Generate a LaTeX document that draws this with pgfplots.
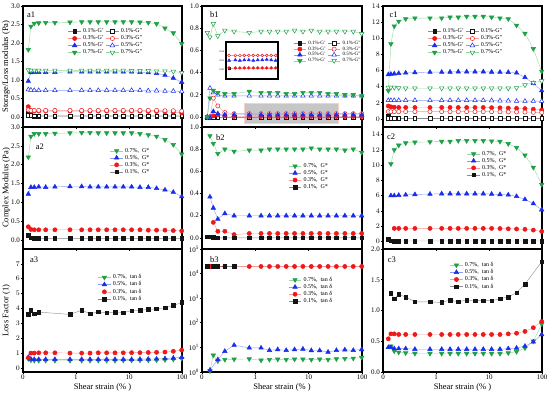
\documentclass[border=0pt]{standalone}
\usepackage{fontspec}
\setmainfont{Liberation Serif}
\usepackage{pgfplots}
\usepackage{pgfplotstable}
\pgfplotsset{compat=1.18}

\definecolor{cg}{RGB}{30,160,70}
\definecolor{cgl}{RGB}{150,215,160}
\definecolor{cb}{RGB}{25,45,235}
\definecolor{cbl}{RGB}{135,155,245}
\definecolor{cr}{RGB}{240,25,25}
\definecolor{crl}{RGB}{245,155,155}
\definecolor{ck}{RGB}{20,20,20}
\definecolor{ckl}{RGB}{140,140,140}

\pgfplotsset{
 s7f/.style={color=cgl, line width=0.4pt, mark=triangle*, mark size=2.6pt, mark options={rotate=180, fill=cg, draw=cg, solid, line width=0.5pt}},
 s7h/.style={color=cgl, line width=0.4pt, mark=triangle*, mark size=2.6pt, mark options={rotate=180, fill=white, draw=cg, solid, line width=0.5pt}},
 s5f/.style={color=cbl, line width=0.4pt, mark=triangle*, mark size=2.6pt, mark options={fill=cb, draw=cb, solid, line width=0.5pt}},
 s5h/.style={color=cbl, line width=0.4pt, mark=triangle*, mark size=2.6pt, mark options={fill=white, draw=cb, solid, line width=0.5pt}},
 s3f/.style={color=crl, line width=0.4pt, mark=*, mark size=2.1pt, mark options={fill=cr, draw=cr, solid, line width=0.5pt}},
 s3h/.style={color=crl, line width=0.4pt, mark=*, mark size=2.1pt, mark options={fill=white, draw=cr, solid, line width=0.5pt}},
 s1f/.style={color=ckl, line width=0.4pt, mark=square*, mark size=1.8pt, mark options={fill=ck, draw=ck, solid, line width=0.5pt}},
 s1h/.style={color=ckl, line width=0.4pt, mark=square*, mark size=1.8pt, mark options={fill=white, draw=ck, solid, line width=0.5pt}},
 every axis/.append style={scale only axis, anchor=south west,
   xminorticks=false, yminorticks=false,
   axis line style={line width=1.1pt}, tick align=outside,
   xtick pos=bottom, ytick pos=left, major tick length=2pt,
   tick style={line width=0.6pt, black},
   ticklabel style={font=\fontsize{7}{8}\selectfont},
   yticklabel style={inner sep=1pt},
   xticklabel style={inner sep=1pt},
   clip=false,
   label style={font=\fontsize{8.5}{10}\selectfont},
   ylabel style={at={(axis description cs:-0.08,0.5)}, anchor=south, inner sep=0pt},
   xlabel style={at={(axis description cs:0.5,0)}, anchor=north, inner sep=0pt, yshift=-11pt},
   legend style={draw=none, fill=none, font=\fontsize{6}{6}\selectfont, inner sep=0pt, row sep=-2.5pt, anchor=north west},
   legend cell align=left,
 },
 legend image code/.code={\draw[mark repeat=2,mark phase=2] plot coordinates {(0cm,0cm) (0.22cm,0cm) (0.44cm,0cm)};},
}
\tikzset{mylab/.style={anchor=west, font=\fontsize{8.5}{9}\selectfont, inner sep=0pt}}

% ---------------- data ----------------
\pgfplotstableread{
x p1 q1 p3 q3 p5 q5 p7 q7
0.126 0.12 0.05 0.28 0.19 0.97 0.74 1.82 1.27
0.141 0.03 0.04 0.17 0.18 1.20 0.73 2.45 1.26
0.163 0.02 0.03 0.16 0.18 1.21 0.72 2.53 1.26
0.198 0.02 0.03 0.16 0.18 1.21 0.72 2.54 1.26
0.268 0.02 0.03 0.16 0.18 1.21 0.72 2.55 1.26
0.40 0.02 0.03 0.16 0.18 1.21 0.72 2.55 1.26
0.77 0.02 0.03 0.16 0.18 1.22 0.72 2.56 1.26
1.28 0.02 0.03 0.16 0.18 1.22 0.72 2.57 1.26
1.84 0.02 0.03 0.16 0.18 1.22 0.72 2.57 1.26
2.63 0.02 0.03 0.16 0.18 1.22 0.72 2.57 1.26
3.79 0.02 0.03 0.16 0.18 1.22 0.72 2.57 1.26
5.44 0.02 0.03 0.16 0.18 1.22 0.72 2.57 1.26
7.8 0.02 0.03 0.16 0.18 1.22 0.72 2.57 1.26
11.2 0.02 0.03 0.16 0.18 1.22 0.72 2.57 1.25
16.1 0.02 0.03 0.16 0.18 1.21 0.72 2.56 1.25
23.1 0.02 0.03 0.15 0.18 1.20 0.71 2.55 1.25
33.1 0.02 0.03 0.15 0.18 1.18 0.71 2.52 1.24
47.7 0.02 0.03 0.14 0.17 1.13 0.70 2.40 1.24
68.6 0.02 0.03 0.13 0.17 1.05 0.70 2.27 1.23
98.6 0.02 0.03 0.11 0.16 0.94 0.69 1.98 1.20
}\tAone

\pgfplotstableread{
x p1 q1 p3 q3 p5 q5 p7 q7
0.126 0.0 0.0 0.0 0.0 0.0 0.0 0.0 0.76
0.141 0.0 0.0 0.0 0.0 0.0 0.26 0.17 0.72
0.163 0.0 0.0 0.01 0.17 0.05 0.22 0.24 0.84
0.198 0.0 0.0 0.02 0.10 0.03 0.20 0.22 0.73
0.268 0.0 0.0 0.01 0.04 0.02 0.19 0.21 0.78
0.40 0.0 0.0 0.005 0.03 0.02 0.19 0.21 0.77
0.77 0.0 0.0 0.005 0.03 0.02 0.19 0.23 0.76
1.28 0.0 0.0 0.005 0.03 0.02 0.19 0.22 0.77
1.84 0.0 0.0 0.005 0.03 0.02 0.19 0.22 0.77
2.63 0.0 0.0 0.005 0.03 0.02 0.19 0.22 0.77
3.79 0.0 0.0 0.005 0.03 0.02 0.19 0.21 0.77
5.44 0.0 0.0 0.005 0.03 0.02 0.19 0.21 0.78
7.8 0.0 0.0 0.005 0.03 0.02 0.19 0.22 0.77
11.2 0.0 0.0 0.005 0.03 0.02 0.19 0.22 0.78
16.1 0.0 0.0 0.005 0.03 0.02 0.19 0.22 0.77
23.1 0.0 0.0 0.005 0.03 0.02 0.19 0.21 0.77
33.1 0.0 0.0 0.005 0.03 0.02 0.19 0.21 0.77
47.7 0.0 0.0 0.005 0.03 0.02 0.19 0.20 0.77
68.6 0.0 0.0 0.005 0.03 0.02 0.19 0.20 0.77
98.6 0.0 0.0 0.005 0.03 0.02 0.19 0.19 0.75
}\tBone

\pgfplotstableread{
x p1 q1 p3 q3 p5 q5
0.77 0.003 0.030 0.004 0.031 0.020 0.030
1.28 nan 0.030 0.004 0.031 0.021 0.030
1.84 nan 0.030 0.004 0.031 0.020 0.030
2.63 nan 0.030 0.004 0.031 0.021 0.030
3.79 nan 0.030 0.004 0.031 0.021 0.030
5.44 nan 0.030 0.004 0.031 0.020 0.030
7.8 nan 0.030 0.004 0.031 0.021 0.030
11.2 nan 0.030 0.004 0.031 0.021 0.030
16.1 nan 0.030 0.004 0.031 0.022 0.030
23.1 nan 0.030 0.004 0.031 0.021 0.030
33.1 nan 0.030 0.004 0.031 0.020 0.030
}\tBins

\pgfplotstableread{
x p1 q1 p3 q3 p5 q5 p7 q7
0.126 0.30 0.05 1.60 0.90 5.50 2.30 3.50 3.90
0.141 0.05 0.05 1.50 0.90 5.55 2.30 9.30 3.90
0.163 0.05 0.05 1.45 0.90 5.60 2.30 11.5 3.90
0.198 0.05 0.05 1.42 0.90 5.65 2.30 12.1 3.85
0.268 0.05 0.05 1.42 0.90 5.70 2.30 12.4 3.80
0.40 0.05 0.05 1.42 0.90 5.75 2.30 12.5 3.80
0.77 0.05 0.05 1.42 0.90 5.80 2.30 12.5 3.80
1.28 0.05 0.05 1.42 0.90 5.80 2.30 12.5 3.80
1.84 0.05 0.05 1.42 0.90 5.82 2.30 12.6 3.80
2.63 0.05 0.05 1.42 0.90 5.85 2.30 12.6 3.80
3.79 0.05 0.05 1.42 0.90 5.85 2.30 12.7 3.80
5.44 0.05 0.05 1.42 0.90 5.85 2.30 12.7 3.80
7.8 0.05 0.05 1.42 0.90 5.85 2.30 12.7 3.80
11.2 0.05 0.05 1.40 0.90 5.82 2.28 12.6 3.80
16.1 0.05 0.05 1.38 0.88 5.80 2.25 12.5 3.80
23.1 0.05 0.05 1.35 0.87 5.78 2.25 12.4 3.80
33.1 0.05 0.05 1.32 0.86 5.70 2.20 11.6 3.85
47.7 0.05 0.05 1.28 0.85 5.15 2.20 10.6 4.20
68.6 0.05 0.05 1.20 0.82 4.40 2.20 8.7 4.50
98.6 0.05 0.05 1.10 0.80 3.50 2.20 5.9 4.70
}\tCone

\pgfplotstableread{
x g1 g3 g5 g7
0.126 0.12 0.35 1.22 2.20
0.141 0.06 0.28 1.40 2.75
0.163 0.04 0.27 1.40 2.82
0.198 0.04 0.27 1.41 2.82
0.268 0.04 0.27 1.40 2.82
0.40 0.04 0.27 1.41 2.83
0.77 0.04 0.27 1.42 2.84
1.28 0.04 0.27 1.42 2.85
1.84 0.04 0.27 1.41 2.85
2.63 0.04 0.27 1.41 2.84
3.79 0.04 0.27 1.41 2.84
5.44 0.04 0.27 1.41 2.84
7.8 0.04 0.27 1.41 2.84
11.2 0.04 0.27 1.41 2.84
16.1 0.04 0.27 1.40 2.82
23.1 0.04 0.26 1.40 2.79
33.1 0.04 0.26 1.37 2.75
47.7 0.04 0.26 1.33 2.66
68.6 0.04 0.25 1.27 2.53
98.6 0.04 0.24 1.15 2.28
}\tAtwo

\pgfplotstableread{
x g1 g3 g5 g7
0.126 0.01 nan nan nan
0.141 0.01 nan 0.37 0.92
0.163 0.005 0.14 0.27 0.85
0.198 0.0 0.06 0.17 0.76
0.268 0.0 0.06 0.22 0.80
0.40 0.0 0.03 0.20 0.78
0.77 0.0 0.04 0.20 0.79
1.28 0.0 0.04 0.20 0.79
1.84 0.0 0.04 0.20 0.80
2.63 0.0 0.04 0.20 0.80
3.79 0.0 0.04 0.20 0.80
5.44 0.0 0.04 0.20 0.80
7.8 0.0 0.04 0.20 0.80
11.2 0.0 0.04 0.20 0.81
16.1 0.0 0.04 0.20 0.80
23.1 0.0 0.04 0.20 0.80
33.1 0.0 0.04 0.20 0.80
47.7 0.0 0.04 0.20 0.79
68.6 0.0 0.04 0.20 0.80
98.6 0.0 0.04 0.20 0.77
}\tBtwo

\pgfplotstableread{
x g1 g3 g5 g7
0.126 0.25 nan nan nan
0.141 0.10 nan 6.00 10.15
0.163 0.05 1.70 6.00 12.0
0.198 0.05 1.70 6.05 12.6
0.268 0.05 1.70 6.10 12.9
0.40 0.05 1.70 6.15 13.0
0.77 0.05 1.70 6.20 13.05
1.28 0.05 1.70 6.25 13.1
1.84 0.05 1.70 6.25 13.1
2.63 0.05 1.70 6.25 13.2
3.79 0.05 1.70 6.25 13.2
5.44 0.05 1.70 6.25 13.2
7.8 0.05 1.70 6.25 13.2
11.2 0.05 1.70 6.20 13.15
16.1 0.05 1.68 6.15 13.1
23.1 0.05 1.65 6.10 12.8
33.1 0.05 1.62 5.90 12.3
47.7 0.05 1.58 5.50 11.3
68.6 0.05 1.48 4.95 9.7
98.6 0.05 1.30 4.15 7.45
}\tCtwo

\pgfplotstableread{
x t1 t3 t5 t7
0.126 3.60 0.68 0.72 0.62
0.141 3.88 1.00 0.60 0.52
0.163 3.65 1.00 0.58 0.50
0.198 3.76 1.02 0.58 0.50
0.268 nan 1.02 0.58 0.50
0.40 nan 1.02 0.58 0.50
0.77 3.60 1.00 0.58 0.50
1.28 3.88 1.00 0.58 0.50
1.84 3.65 1.00 0.58 0.50
2.63 3.77 1.02 0.58 0.50
3.79 3.70 1.02 0.58 0.50
5.44 3.74 1.02 0.58 0.50
7.8 3.72 1.02 0.58 0.51
11.2 3.85 1.03 0.58 0.51
16.1 3.88 1.03 0.59 0.52
23.1 3.93 1.04 0.60 0.52
33.1 3.98 1.05 0.61 0.53
47.7 4.05 1.07 0.63 0.55
68.6 4.20 1.12 0.67 0.58
98.6 4.40 1.20 0.72 0.63
}\tAthree

\pgfplotstableread{
x t1 t3 t5 t7
0.126 19500 19500 nan nan
0.141 nan 19500 1.2 1.1
0.163 19500 19500 nan 4.8
0.198 19500 19500 3.2 2.8
0.268 19500 19500 7.0 3.2
0.40 19500 19500 12.3 3.3
0.77 nan 19500 9.5 3.4
1.28 nan 19500 9.5 3.0
1.84 nan 19500 7.6 3.2
2.63 nan 19500 8.2 3.3
3.79 nan 19500 7.6 3.2
5.44 nan 19500 8.2 3.3
7.8 nan 19500 8.6 3.3
11.2 nan 19500 7.5 3.2
16.1 nan 19500 7.5 3.3
23.1 nan 19500 6.5 3.2
33.1 nan 19500 7.6 3.4
47.7 nan 19500 8.0 3.5
68.6 nan 19500 7.6 3.6
98.6 nan 19500 8.2 3.9
}\tBthree

\pgfplotstableread{
x t1 t3 t5 t7
0.126 nan 0.54 0.40 nan
0.141 1.28 0.62 0.40 0.42
0.163 1.19 0.62 0.38 0.34
0.198 1.26 0.61 0.38 0.32
0.268 1.22 0.61 0.38 0.31
0.40 1.14 0.61 0.37 0.30
0.77 1.14 0.61 0.37 0.30
1.28 1.13 0.61 0.37 0.30
1.84 1.17 0.61 0.37 0.30
2.63 1.14 0.61 0.37 0.30
3.79 1.17 0.61 0.37 0.30
5.44 1.16 0.61 0.37 0.30
7.8 1.16 0.61 0.37 0.30
11.2 1.16 0.61 0.37 0.30
16.1 1.19 0.61 0.37 0.30
23.1 1.22 0.62 0.38 0.31
33.1 1.29 0.63 0.39 0.33
47.7 1.43 0.66 0.42 0.39
68.6 nan 0.72 0.49 0.50
98.6 1.79 0.82 0.61 0.78
}\tCthree

\begin{document}
\begin{tikzpicture}
\useasboundingbox (0pt,0pt) rectangle (550pt,395pt);

% ================= row 1 =================
\begin{axis}[at={(23pt,268pt)}, width=159pt, height=121pt,
  xmode=log, xmin=0.1, xmax=100, xtick={0.1,1,10,100}, xticklabels={},
  ymin=-0.27, ymax=3.0, ytick={0,0.5,1,1.5,2,2.5,3}, yticklabels={0.0,0.5,1.0,1.5,2.0,2.5,3.0},
  ylabel={Storage/Loss modulus (Pa)},
  legend columns=2, legend style={at={(0.283,0.83)}}]
\addplot[s1f] table[x=x,y=p1]{\tAone}; \addlegendentry{0.1\%-G'~}
\addplot[s1h] table[x=x,y=q1]{\tAone}; \addlegendentry{0.1\%-G''}
\addplot[s3f] table[x=x,y=p3]{\tAone}; \addlegendentry{0.3\%-G'~}
\addplot[s3h] table[x=x,y=q3]{\tAone}; \addlegendentry{0.3\%-G''}
\addplot[s5f] table[x=x,y=p5]{\tAone}; \addlegendentry{0.5\%-G'~}
\addplot[s5h] table[x=x,y=q5]{\tAone}; \addlegendentry{0.5\%-G''}
\addplot[s7f] table[x=x,y=p7]{\tAone}; \addlegendentry{0.7\%-G'~}
\addplot[s7h] table[x=x,y=q7]{\tAone}; \addlegendentry{0.7\%-G''}
\node[mylab] at (rel axis cs:0.025,0.925) {a1};
\end{axis}

\begin{axis}[at={(202pt,268pt)}, width=160pt, height=121pt,
  xmode=log, xmin=0.1, xmax=100, xtick={0.1,1,10,100}, xticklabels={},
  ymin=-0.09, ymax=1.0, ytick={0,0.2,0.4,0.6,0.8,1.0}, yticklabels={0.0,0.2,0.4,0.6,0.8,1.0},
  legend columns=2, legend style={at={(0.57,0.73)}, font=\fontsize{5}{5}\selectfont, row sep=-3pt}]
\fill[gray!45, draw=red!20] (axis cs:0.62,-0.057) rectangle (axis cs:36,0.123);
\addplot[s1f] table[x=x,y=p1]{\tBone}; \addlegendentry{0.1\%-G'~}
\addplot[s1h] table[x=x,y=q1]{\tBone}; \addlegendentry{0.1\%-G''}
\addplot[s3f] table[x=x,y=p3]{\tBone}; \addlegendentry{0.3\%-G'~}
\addplot[s3h] table[x=x,y=q3]{\tBone}; \addlegendentry{0.3\%-G''}
\addplot[s5f] table[x=x,y=p5]{\tBone}; \addlegendentry{0.5\%-G'~}
\addplot[s5h] table[x=x,y=q5]{\tBone}; \addlegendentry{0.5\%-G''}
\addplot[s7f] table[x=x,y=p7]{\tBone}; \addlegendentry{0.7\%-G'~}
\addplot[s7h] table[x=x,y=q7]{\tBone}; \addlegendentry{0.7\%-G''}
\node[mylab] at (rel axis cs:0.05,0.925) {b1};
\end{axis}

% inset of b1
\begin{axis}[at={(226pt,316pt)}, width=52pt, height=37pt,
  xmode=log, xmin=0.6, xmax=40, ymin=-0.02, ymax=0.06, clip=true,
  scaled y ticks=false,
  xtick={1,10}, ytick={0,0.02,0.04}, yticklabels={0.00,0.02,0.04}, xticklabels={},
  tick style={line width=0.3pt, black}, major tick length=1pt,
  ticklabel style={font=\fontsize{2.5}{3}\selectfont, inner sep=0.5pt}]
\addplot[s1f, mark size=1.2pt] table[x=x,y=p1]{\tBins};
\addplot[s3h, mark size=1.4pt] table[x=x,y=q3]{\tBins};
\addplot[s3f, mark size=1.4pt] table[x=x,y=p3]{\tBins};
\addplot[s5f, mark size=1.7pt] table[x=x,y=p5]{\tBins};
\end{axis}

\begin{axis}[at={(383pt,268pt)}, width=159pt, height=121pt,
  xmode=log, xmin=0.1, xmax=100, xtick={0.1,1,10,100}, xticklabels={},
  ymin=-1, ymax=14, ytick={0,2,4,6,8,10,12,14},
  legend columns=2, legend style={at={(0.283,0.83)}}]
\addplot[s1f] table[x=x,y=p1]{\tCone}; \addlegendentry{0.1\%-G'~}
\addplot[s1h] table[x=x,y=q1]{\tCone}; \addlegendentry{0.1\%-G''}
\addplot[s3f] table[x=x,y=p3]{\tCone}; \addlegendentry{0.3\%-G'~}
\addplot[s3h] table[x=x,y=q3]{\tCone}; \addlegendentry{0.3\%-G''}
\addplot[s5f] table[x=x,y=p5]{\tCone}; \addlegendentry{0.5\%-G'~}
\addplot[s5h] table[x=x,y=q5]{\tCone}; \addlegendentry{0.5\%-G''}
\addplot[s7f] table[x=x,y=p7]{\tCone}; \addlegendentry{0.7\%-G'~}
\addplot[s7h] table[x=x,y=q7]{\tCone}; \addlegendentry{0.7\%-G''}
\node[mylab] at (rel axis cs:0.04,0.925) {c1};
\end{axis}

% ================= row 2 =================
\begin{axis}[at={(23pt,146pt)}, width=159pt, height=122pt,
  xmode=log, xmin=0.1, xmax=100, xtick={0.1,1,10,100}, xticklabels={},
  ymin=-0.24, ymax=3.0, ytick={0,0.5,1,1.5,2,2.5,3}, yticklabels={0.0,0.5,1.0,1.5,2.0,2.5,3.0},
  ylabel={Complex Modulus (Pa)},
  legend style={at={(0.547,0.845)}}]
\addplot[s7f] table[x=x,y=g7]{\tAtwo}; \addlegendentry{0.7\%,~~G*}
\addplot[s5f] table[x=x,y=g5]{\tAtwo}; \addlegendentry{0.5\%,~~G*}
\addplot[s3f] table[x=x,y=g3]{\tAtwo}; \addlegendentry{0.3\%,~~G*}
\addplot[s1f] table[x=x,y=g1]{\tAtwo}; \addlegendentry{0.1\%,~~G*}
\node[mylab] at (rel axis cs:0.08,0.836) {a2};
\end{axis}

\begin{axis}[at={(202pt,146pt)}, width=160pt, height=122pt,
  xmode=log, xmin=0.1, xmax=100, xtick={0.1,1,10,100}, xticklabels={},
  ymin=-0.1, ymax=1.0, ytick={0,0.2,0.4,0.6,0.8,1.0}, yticklabels={0.0,0.2,0.4,0.6,0.8,1.0},
  legend style={at={(0.54,0.72)}}]
\addplot[s7f] table[x=x,y=g7]{\tBtwo}; \addlegendentry{0.7\%,~~G*}
\addplot[s5f] table[x=x,y=g5]{\tBtwo}; \addlegendentry{0.5\%,~~G*}
\addplot[s3f] table[x=x,y=g3]{\tBtwo}; \addlegendentry{0.3\%,~~G*}
\addplot[s1f] table[x=x,y=g1]{\tBtwo}; \addlegendentry{0.1\%,~~G*}
\node[mylab] at (rel axis cs:0.087,0.91) {b2};
\end{axis}

\begin{axis}[at={(383pt,146pt)}, width=159pt, height=122pt,
  xmode=log, xmin=0.1, xmax=100, xtick={0.1,1,10,100}, xticklabels={},
  ymin=-1, ymax=15, ytick={0,2,4,6,8,10,12,14},
  legend style={at={(0.528,0.82)}}]
\addplot[s7f] table[x=x,y=g7]{\tCtwo}; \addlegendentry{0.7\%,~~G*}
\addplot[s5f] table[x=x,y=g5]{\tCtwo}; \addlegendentry{0.5\%,~~G*}
\addplot[s3f] table[x=x,y=g3]{\tCtwo}; \addlegendentry{0.3\%,~~G*}
\addplot[s1f] table[x=x,y=g1]{\tCtwo}; \addlegendentry{0.1\%,~~G*}
\node[mylab] at (rel axis cs:0.025,0.918) {c2};
\end{axis}

% ================= row 3 =================
\begin{axis}[at={(23pt,23pt)}, width=159pt, height=123pt,
  xmode=log, xmin=0.1, xmax=100, xtick={0.1,1,10,100}, xticklabels={0,1,10,100},
  ymin=-0.27, ymax=8, ytick={0,1,2,3,4,5,6,7},
  xlabel={Shear strain (\% )},
  ylabel={Loss Factor (1)},
  legend style={at={(0.47,0.81)}}]
\addplot[s7f] table[x=x,y=t7]{\tAthree}; \addlegendentry{0.7\%,~~tan δ}
\addplot[s5f] table[x=x,y=t5]{\tAthree}; \addlegendentry{0.5\%,~~tan δ}
\addplot[s3f] table[x=x,y=t3]{\tAthree}; \addlegendentry{0.3\%,~~tan δ}
\addplot[s1f] table[x=x,y=t1]{\tAthree}; \addlegendentry{0.1\%,~~tan δ}
\node[mylab] at (rel axis cs:0.044,0.91) {a3};
\end{axis}

\begin{axis}[at={(202pt,23pt)}, width=160pt, height=123pt,
  xmode=log, xmin=0.1, xmax=100, xtick={0.1,1,10,100}, xticklabels={0,1,10,100},
  ymode=log, ymin=1, ymax=100000, ytick={1,10,100,1000,10000,100000},
  yticklabels={10\textsuperscript{0},10\textsuperscript{1},10\textsuperscript{2},10\textsuperscript{3},10\textsuperscript{4},10\textsuperscript{5}},
  xlabel={Shear strain (\% )},
  legend style={at={(0.54,0.79)}}]
\addplot[s7f] table[x=x,y=t7]{\tBthree}; \addlegendentry{0.7\%,~~tan δ}
\addplot[s5f] table[x=x,y=t5]{\tBthree}; \addlegendentry{0.5\%,~~tan δ}
\addplot[s3f] table[x=x,y=t3]{\tBthree}; \addlegendentry{0.3\%,~~tan δ}
\addplot[s1f] table[x=x,y=t1]{\tBthree}; \addlegendentry{0.1\%,~~tan δ}
\node[mylab] at (rel axis cs:0.05,0.91) {b3};
\end{axis}

\begin{axis}[at={(383pt,23pt)}, width=159pt, height=123pt,
  xmode=log, xmin=0.1, xmax=100, xtick={0.1,1,10,100}, xticklabels={0,1,10,100},
  ymin=0, ymax=2.0, ytick={0,0.5,1,1.5,2}, yticklabels={0.0,0.5,1.0,1.5,2.0},
  xlabel={Shear strain (\% )},
  legend style={at={(0.42,0.91)}}]
\addplot[s7f] table[x=x,y=t7]{\tCthree}; \addlegendentry{0.7\%,~~tan δ}
\addplot[s5f] table[x=x,y=t5]{\tCthree}; \addlegendentry{0.5\%,~~tan δ}
\addplot[s3f] table[x=x,y=t3]{\tCthree}; \addlegendentry{0.3\%,~~tan δ}
\addplot[s1f] table[x=x,y=t1]{\tCthree}; \addlegendentry{0.1\%,~~tan δ}
\node[mylab] at (rel axis cs:0.03,0.91) {c3};
\end{axis}

\end{tikzpicture}
\end{document}
